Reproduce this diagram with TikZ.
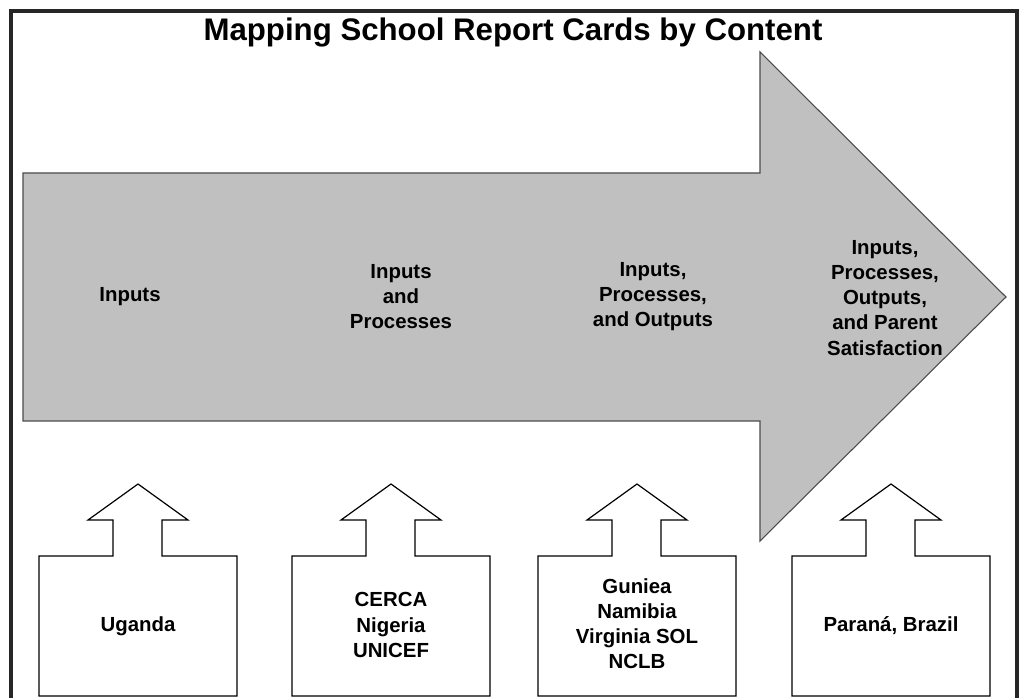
\documentclass[tikz,border=0pt]{standalone}
\usepackage{fontspec}
\setmainfont{Liberation Sans}
\definecolor{arrowgray}{HTML}{C0C0C0}

\begin{document}
\begin{tikzpicture}[x=0.75pt,y=-0.75pt,
	label/.style={align=center,font=\bfseries\fontsize{15.3}{18.8}\selectfont},
	uparrow/.style={draw=black,line width=0.9pt,fill=white,line join=miter}]
\useasboundingbox (0,0) rectangle (1022,698);
% frame
\draw[line width=2.4pt,color=black!85] (11,699) -- (11,11) -- (1017,11) -- (1017,699);
\node[font=\bfseries\fontsize{23.4}{27}\selectfont] (title) at (513,33) {Mapping School Report Cards by Content};
% the big arrow
\draw[fill=arrowgray,draw=black!70,line width=0.8pt] (23,173) -- (760,173) -- (760,52) -- (1006,297)
	-- (760,541) -- (760,421) -- (23,421) -- cycle;
\node[label] (inp) at (130,297) {Inputs};
\node[label] (inpproc) at (401,297) {Inputs\\and\\Processes};
\node[label] (inpout) at (653,297) {Inputs,\\Processes,\\and Outputs};
\node[label] (inpsat) at (885,298) {Inputs,\\Processes,\\Outputs,\\and Parent\\Satisfaction};
% the small arrows
\foreach \cx in {138,391,637,891}
	\draw[uparrow] (\cx-99,696) -- (\cx-99,556) -- (\cx-25,556) -- (\cx-25,520) -- (\cx-50,520)
	-- (\cx,484) -- (\cx+50,520) -- (\cx+24,520) -- (\cx+24,556) -- (\cx+99,556) -- (\cx+99,696) -- cycle;
\node[label] (uganda) at (138,626) {Uganda};
\node[label] (cerca) at (391,625) {CERCA\\Nigeria\\UNICEF};
\node[label] (guniea) at (637,624) {Guniea\\Namibia\\Virginia SOL\\NCLB};
\node[label] (parana) at (891,626) {Paraná, Brazil};
\end{tikzpicture}
\end{document}
